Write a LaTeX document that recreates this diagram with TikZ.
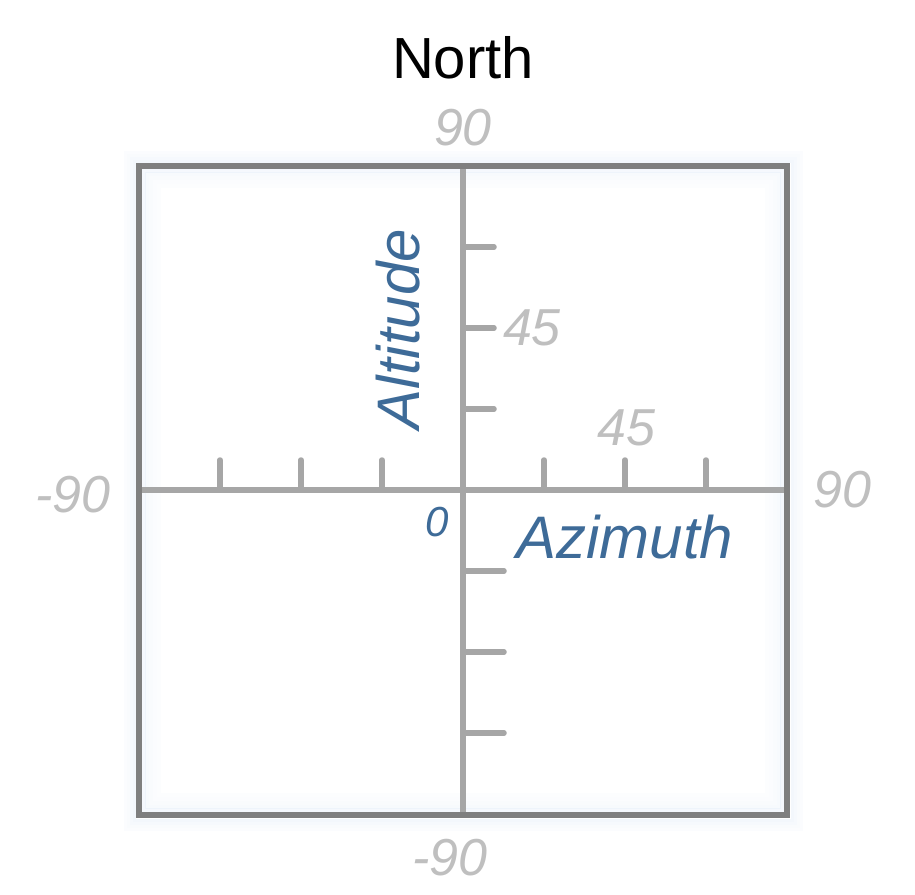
\documentclass[tikz,border=0pt]{standalone}
\usepackage{fontspec}
\setmainfont{Liberation Sans}
\usetikzlibrary{calc}
\definecolor{boxgray}{HTML}{7F7F7F}
\definecolor{axisgray}{HTML}{A6A6A6}
\definecolor{lblgray}{HTML}{BFBFBF}
\definecolor{lblblue}{HTML}{3E6B98}
\definecolor{glow}{HTML}{D2E2F6}
\tikzset{
  axisline/.style={draw=axisgray, line width=5.5pt},
  tickline/.style={draw=axisgray, line width=5.5pt, line cap=round},
  graylbl/.style={text=lblgray, font=\fontsize{52}{52}\selectfont\itshape, inner sep=0pt},
  bluelbl/.style={text=lblblue, font=\fontsize{60}{60}\selectfont\itshape, inner sep=0pt},
}
\begin{document}
\begin{tikzpicture}[x=1pt,y=-1pt]
\useasboundingbox (0,0) rectangle (915,894);
\fill[white] (0,0) rectangle (915,894);
% glow outside and inside
\foreach \d/\o in {14/0.07,11/0.12,8/0.18,5/0.25}{
  \draw[glow, line width=3pt, opacity=\o] (139-\d,166-\d) rectangle (787+\d,815+\d);
}
\foreach \d/\o in {20/0.05,16/0.08,12/0.12,8/0.17,5/0.22}{
  \draw[glow, line width=4pt, opacity=\o] (139+\d,166+\d) rectangle (787-\d,815-\d);
}
\coordinate (tl) at (139,166);
\coordinate (br) at (787,815);
\coordinate (c) at (463,490);
\coordinate (L) at (139,490);
\coordinate (R) at (787,490);
\coordinate (T) at (463,166);
\coordinate (B) at (463,815);
% axes
\draw[axisline] (L) -- (R);
\draw[axisline] (T) -- (B);
% ticks horizontal
\foreach \k in {-3,-2,-1,1,2,3}{
  \draw[tickline] ($(c)+(81*\k,0)$) -- ($(c)+(81*\k,-30)$);
}
% ticks vertical
\foreach \k in {1,2,3}{
  \draw[tickline] ($(c)+(0,-81*\k)$) -- ($(c)+(31,-81*\k)$);
  \draw[tickline] ($(c)+(0,81*\k)$) -- ($(c)+(41,81*\k)$);
}
% box
\draw[boxgray, line width=6.2pt] (tl) rectangle (br);
% labels
\node[font=\fontsize{58}{58}\selectfont, inner sep=0pt] (north) at (463,58) {North};
\node[graylbl] (top90) at (463,128) {90};
\node[graylbl] (bot90) at (450,858) {-90};
\node[graylbl] (left90) at (73,495) {-90};
\node[graylbl] (right90) at (842,490) {90};
\node[graylbl] (alt45) at (532,328) {45};
\node[graylbl] (az45) at (626,428) {45};
\node[bluelbl, rotate=90] (alt) at (398,329) {Altitude};
\node[bluelbl] (az) at (625,537) {Azimuth};
\node[text=lblblue, font=\fontsize{42}{42}\selectfont\itshape, inner sep=0pt] (zero) at (437,522) {0};
\end{tikzpicture}
\end{document}
